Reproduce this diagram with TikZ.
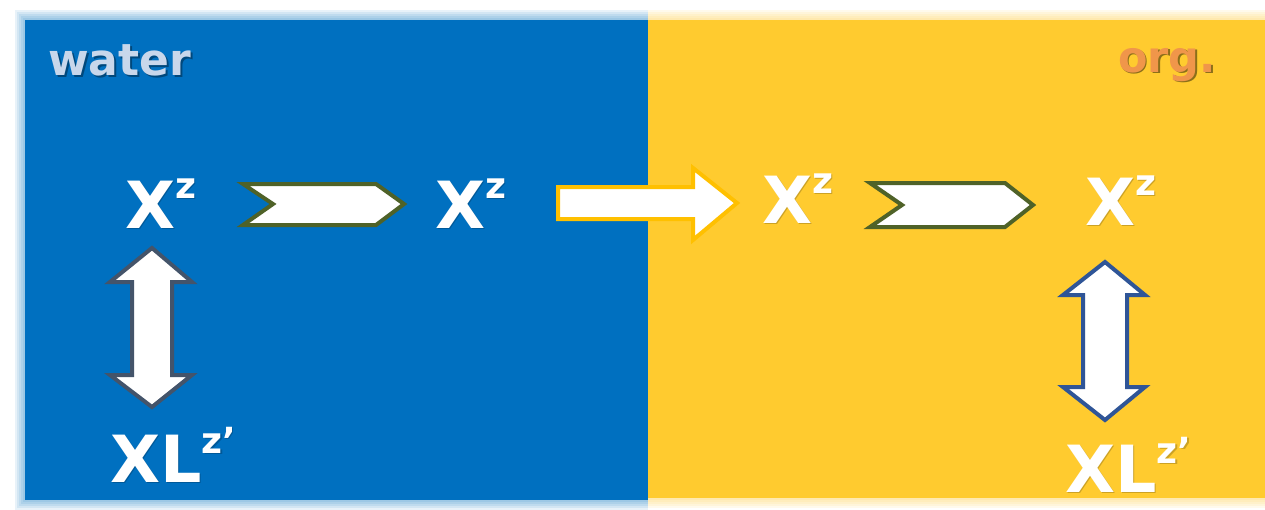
\documentclass[tikz,border=0pt]{standalone}
\usepackage{fontspec}
\setmainfont{DejaVu Sans}
\definecolor{wblue}{HTML}{0070C0}
\definecolor{oyellow}{HTML}{FFCB2F}
\definecolor{chevgreen}{HTML}{4F6228}
\definecolor{arrgold}{HTML}{FFC000}
\definecolor{slateA}{HTML}{44546A}
\definecolor{slateB}{HTML}{2F5597}
\definecolor{waterc}{HTML}{C8D7EB}
\definecolor{orgc}{HTML}{F0964A}
\newcommand\bigf{\fontsize{65}{65}\selectfont\bfseries}
\newcommand\supf{\fontsize{36}{36}\selectfont\bfseries}
\newcommand\Xz{X\raisebox{30pt}{\supf z}}
\newcommand\XLz{XL\raisebox{29pt}{\supf z’}}
\tikzset{
  lbl/.style={inner sep=0pt, outer sep=0pt, anchor=base west, text=white},
  shad/.style={inner sep=0pt, outer sep=0pt, anchor=base west, text=black, opacity=0.25},
  chev/.style={fill=white, draw=chevgreen, line width=4pt, line join=miter},
  fatarrow/.style={fill=white, draw=arrgold, line width=4pt, line join=miter},
  dblA/.style={fill=white, draw=slateA, line width=4pt, line join=miter},
  dblB/.style={fill=white, draw=slateB, line width=4pt, line join=miter}
}
\begin{document}
\begin{tikzpicture}[x=1pt,y=-1pt]
\useasboundingbox (0,0) rectangle (1265,509);
\fill[white] (0,0) rectangle (1265,509);
% soft edges
\foreach \d in {2,4,6,8,10}{
  \fill[wblue, opacity=0.09] (25-\d,20-\d) rectangle (648,500+\d);
  \fill[oyellow, opacity=0.09] (648,20-\d) rectangle (1265,498+\d);
}
\fill[wblue] (25,20) rectangle (648,500);
\fill[oyellow] (648,20) rectangle (1265,498);

% labels
\node[shad, text=black, opacity=0.35] at (50,77) {\fontsize{44}{44}\selectfont\bfseries water};
\node[lbl, text=waterc] (water) at (48,75) {\fontsize{44}{44}\selectfont\bfseries water};
\node[shad, opacity=0.45] at (1119.5,73.5) {\fontsize{43}{43}\selectfont\bfseries org.};
\node[lbl, text=orgc] (org) at (1118,72) {\fontsize{43}{43}\selectfont\bfseries org.};

% species
\node[shad, opacity=0.2] at (126.5,229.5) {\bigf\Xz};
\node[lbl] (x1) at (125,228) {\bigf\Xz};
\node[shad, opacity=0.2] at (436.5,229.5) {\bigf\Xz};
\node[lbl] (x2) at (435,228) {\bigf\Xz};
\node[shad, opacity=0.2] at (763.5,224.5) {\bigf\Xz};
\node[lbl] (x3) at (762,223) {\bigf\Xz};
\node[shad, opacity=0.2] at (1086.5,226.5) {\bigf\Xz};
\node[lbl] (x4) at (1085,225) {\bigf\Xz};
\node[shad, opacity=0.2] at (111.5,483.5) {\bigf\XLz};
\node[lbl] (xl1) at (110,482) {\bigf\XLz};
\node[shad, opacity=0.2] at (1066.5,493.5) {\bigf\XLz};
\node[lbl] (xl2) at (1065,492) {\bigf\XLz};

% chevrons
\draw[chev] (243,184) -- (376,184) -- (404,204) -- (376,225) -- (243,225) -- (273,204) -- cycle;
\draw[chev] (870,183) -- (1005,183) -- (1033,205) -- (1005,227) -- (870,227) -- (902,205) -- cycle;

% transfer arrow
\draw[fatarrow] (558,187) -- (693,187) -- (693,168) -- (737,203) -- (693,240) -- (693,219) -- (558,219) -- cycle;

% double arrows
\draw[dblA] (152,248) -- (192,282) -- (172,282) -- (172,375) -- (192,375) -- (152,407) -- (110,375) -- (132,375) -- (132,282) -- (110,282) -- cycle;
\draw[dblB] (1105,262) -- (1145,295) -- (1127,295) -- (1127,387) -- (1145,387) -- (1105,420) -- (1063,387) -- (1083,387) -- (1083,295) -- (1063,295) -- cycle;
\end{tikzpicture}
\end{document}
